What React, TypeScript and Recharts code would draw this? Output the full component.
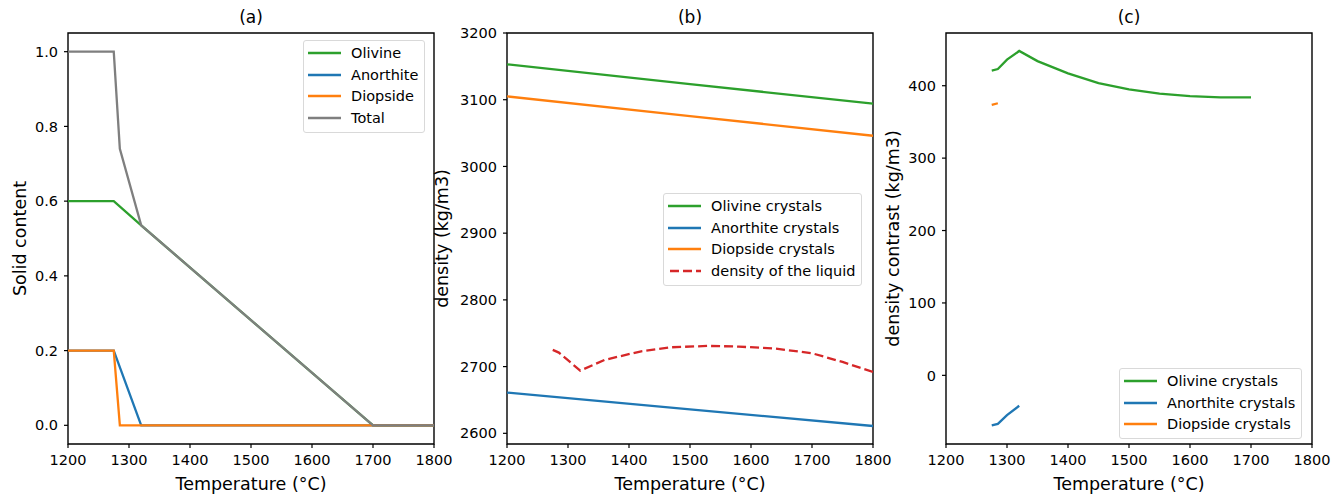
import React from "react";
import { LineChart, Line, XAxis, YAxis, ReferenceArea, Legend } from "recharts";

// ---- panel (a): solid content ----
const olivineSolidT = [1200, 1275, 1320, 1700, 1800];
const olivineSolid = [0.6, 0.6, 0.535, 0, 0];
const anorthiteSolidT = [1200, 1275, 1320, 1800];
const anorthiteSolid = [0.2, 0.2, 0, 0];
const diopsideSolidT = [1200, 1275, 1285, 1800];
const diopsideSolid = [0.2, 0.2, 0, 0];
const totalSolidT = [1200, 1275, 1285, 1320, 1700, 1800];
const totalSolid = [1, 1, 0.74, 0.535, 0, 0];

// ---- panel (b): densities ----
const crystalT = [1200, 1500, 1800];
const olivineDensity = [3153, 3123.5, 3094];
const diopsideDensity = [3105, 3075.5, 3046];
const anorthiteDensity = [2661, 2636, 2611];
const liquidT = [1275, 1285, 1320, 1360, 1420, 1470, 1530, 1580, 1640, 1700, 1750, 1800];
const liquidDensity = [2725, 2721, 2694, 2710, 2723, 2729, 2731, 2730, 2727, 2720, 2707, 2692];

// ---- panel (c): density contrast ----
const olivineContrastT = [1275, 1285, 1300, 1320, 1350, 1400, 1450, 1500, 1550, 1600, 1650, 1700];
const olivineContrast = [421, 423, 436, 448, 434, 417, 403.5, 395, 389, 385.5, 384, 384];
const anorthiteContrastT = [1275, 1285, 1300, 1320];
const anorthiteContrast = [-69, -67, -55, -42];
const diopsideContrastT = [1275, 1285];
const diopsideContrast = [373.5, 375.8];

const xTicks = [1200, 1300, 1400, 1500, 1600, 1700, 1800];
const ticksA = [0, 0.2, 0.4, 0.6, 0.8, 1.0];
const ticksB = [2600, 2700, 2800, 2900, 3000, 3100, 3200];
const ticksC = [0, 100, 200, 300, 400];

const GREEN = "#2ca02c";
const BLUE = "#1f77b4";
const ORANGE = "#ff7f0e";
const GRAY = "#7f7f7f";
const RED = "#d62728";
const FONT = "DejaVu Sans, sans-serif";

const pts = (t: number[], v: number[]) => t.map((x, i) => ({ x, y: v[i] }));

interface LegendItem {
    label: string;
    color: string;
    dashed?: boolean;
}

const legendBox = (items: LegendItem[]) => () => (
    <div
        style={{
            border: "1px solid #d9d9d9",
            borderRadius: 3,
            background: "rgba(255,255,255,0.85)",
            padding: "1px 6px 3px 4px",
            fontFamily: FONT,
            fontSize: 14.5,
            color: "#000",
        }}
    >
        {items.map((it) => (
            <div key={it.label} style={{ display: "flex", alignItems: "center", height: 21.8, whiteSpace: "nowrap" }}>
                <svg width={33} height={6} style={{ marginRight: 10 }}>
                    <line
                        x1={0}
                        y1={3}
                        x2={33}
                        y2={3}
                        stroke={it.color}
                        strokeWidth={2.5}
                        strokeDasharray={it.dashed ? "9 4" : undefined}
                        strokeDashoffset={it.dashed ? -2 : undefined}
                    />
                </svg>
                <span>{it.label}</span>
            </div>
        ))}
    </div>
);

const xLabel = (props: any) => {
    const vb = props.viewBox;
    return (
        <text x={vb.x + vb.width / 2} y={vb.y + 45.5} textAnchor="middle" fontSize={17.5} fontFamily={FONT} fill="#000">
            Temperature (°C)
        </text>
    );
};

const yLabel = (text: string, d: number) => (props: any) => {
    const vb = props.viewBox;
    const cx = vb.x + vb.width - d;
    const cy = vb.y + vb.height / 2;
    return (
        <text
            x={cx}
            y={cy}
            transform={`rotate(-90, ${cx}, ${cy})`}
            textAnchor="middle"
            dominantBaseline="central"
            fontSize={17.5}
            fontFamily={FONT}
            fill="#000"
        >
            {text}
        </text>
    );
};

const tickStyle = { fill: "#000", fontSize: 14.5, fontFamily: FONT };

interface PanelProps {
    title: string;
    yName: string;
    yLabelDist: number;
    domain: [number, number];
    yTicks: number[];
    fmt?: (v: number) => string;
    width: number;
    left: number;
    marginLeft: number;
    marginRight: number;
    legend: LegendItem[];
    legendPos: { left: number; top: number };
    children: React.ReactNode;
}

function Panel(p: PanelProps) {
    return (
        <div style={{ position: "absolute", left: p.left, top: 0 }}>
            <LineChart
                width={p.width}
                height={497}
                margin={{ top: 33, right: p.marginRight, left: p.marginLeft, bottom: 23 }}
            >
                <XAxis
                    dataKey="x"
                    type="number"
                    domain={[1200, 1800]}
                    ticks={xTicks}
                    allowDataOverflow
                    axisLine={false}
                    tickLine={{ stroke: "#000", strokeWidth: 1.2 }}
                    tickSize={4}
                    tickMargin={7}
                    tick={tickStyle}
                    height={30}
                    label={{ content: xLabel }}
                />
                <YAxis
                    dataKey="y"
                    type="number"
                    domain={p.domain}
                    ticks={p.yTicks}
                    allowDataOverflow
                    axisLine={false}
                    tickLine={{ stroke: "#000", strokeWidth: 1.2 }}
                    tickSize={4}
                    tickMargin={6}
                    tick={tickStyle}
                    tickFormatter={p.fmt}
                    width={50}
                    label={{ content: yLabel(p.yName, p.yLabelDist) }}
                />
                <ReferenceArea
                    x1={1200}
                    x2={1800}
                    y1={p.domain[0]}
                    y2={p.domain[1]}
                    fill="none"
                    fillOpacity={0}
                    stroke="#000"
                    strokeWidth={1.4}
                    label={{ value: p.title, position: "top", offset: 10.5, fontSize: 17, fontFamily: FONT, fill: "#000" }}
                />
                {p.children}
                <Legend
                    layout="vertical"
                    align="center"
                    verticalAlign="middle"
                    content={legendBox(p.legend)}
                    wrapperStyle={{ left: p.legendPos.left, top: p.legendPos.top, width: "auto", height: "auto" }}
                />
            </LineChart>
        </div>
    );
}

const line = (data: { x: number; y: number }[], color: string, name: string, dashed = false) => (
    <Line
        key={name}
        data={data}
        dataKey="y"
        name={name}
        type="linear"
        stroke={color}
        strokeWidth={2.3}
        strokeDasharray={dashed ? "9 4" : undefined}
        dot={false}
        activeDot={false}
        isAnimationActive={false}
    />
);

export default function App() {
    return (
        <div style={{ position: "absolute", left: 0, top: 0, width: 1343, height: 497, background: "#fff", fontFamily: FONT }}>
            <Panel
                title="(a)"
                yName="Solid content"
                yLabelDist={48}
                domain={[-0.05, 1.05]}
                yTicks={ticksA}
                fmt={(v) => v.toFixed(1)}
                width={470}
                left={0}
                marginLeft={18}
                marginRight={36}
                legend={[
                    { label: "Olivine", color: GREEN },
                    { label: "Anorthite", color: BLUE },
                    { label: "Diopside", color: ORANGE },
                    { label: "Total", color: GRAY },
                ]}
                legendPos={{ left: 303, top: 40 }}
            >
                {line(pts(olivineSolidT, olivineSolid), GREEN, "Olivine")}
                {line(pts(anorthiteSolidT, anorthiteSolid), BLUE, "Anorthite")}
                {line(pts(diopsideSolidT, diopsideSolid), ORANGE, "Diopside")}
                {line(pts(totalSolidT, totalSolid), GRAY, "Total")}
            </Panel>
            <Panel
                title="(b)"
                yName="density (kg/m3)"
                yLabelDist={65}
                domain={[2584, 3200]}
                yTicks={ticksB}
                width={480}
                left={420}
                marginLeft={37}
                marginRight={27}
                legend={[
                    { label: "Olivine crystals", color: GREEN },
                    { label: "Anorthite crystals", color: BLUE },
                    { label: "Diopside crystals", color: ORANGE },
                    { label: "density of the liquid", color: RED, dashed: true },
                ]}
                legendPos={{ left: 243, top: 193 }}
            >
                {line(pts(crystalT, olivineDensity), GREEN, "Olivine crystals")}
                {line(pts(crystalT, anorthiteDensity), BLUE, "Anorthite crystals")}
                {line(pts(crystalT, diopsideDensity), ORANGE, "Diopside crystals")}
                {line(pts(liquidT, liquidDensity), RED, "density of the liquid", true)}
            </Panel>
            <Panel
                title="(c)"
                yName="density contrast (kg/m3)"
                yLabelDist={53.5}
                domain={[-94.8, 472.8]}
                yTicks={ticksC}
                width={473}
                left={870}
                marginLeft={26}
                marginRight={31}
                legend={[
                    { label: "Olivine crystals", color: GREEN },
                    { label: "Anorthite crystals", color: BLUE },
                    { label: "Diopside crystals", color: ORANGE },
                ]}
                legendPos={{ left: 249, top: 368 }}
            >
                {line(pts(olivineContrastT, olivineContrast), GREEN, "Olivine crystals")}
                {line(pts(anorthiteContrastT, anorthiteContrast), BLUE, "Anorthite crystals")}
                {line(pts(diopsideContrastT, diopsideContrast), ORANGE, "Diopside crystals")}
            </Panel>
        </div>
    );
}
